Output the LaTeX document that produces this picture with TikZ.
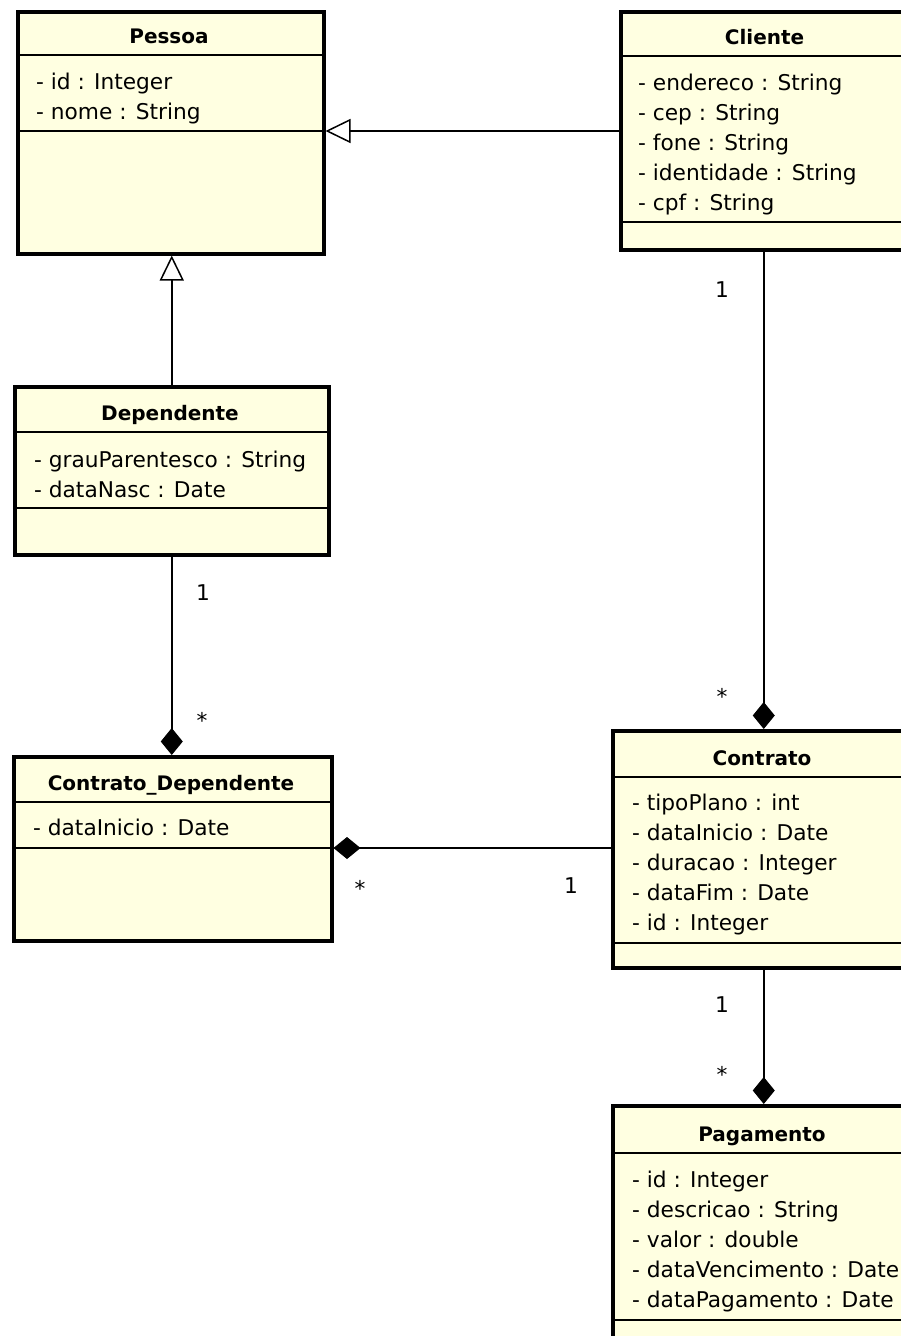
\documentclass[tikz,border=0pt]{standalone}
\usepackage{fontspec}
\setmainfont{DejaVu Sans}
\usetikzlibrary{arrows.meta}
\definecolor{classfill}{RGB}{255,255,225}
\tikzset{
  classbox/.style={draw=black, line width=3.5pt, fill=classfill, rectangle, inner sep=0pt, anchor=north west},
  sepline/.style={line width=1.4pt},
  titletext/.style={font=\fontsize{20}{24}\selectfont\bfseries, inner sep=0pt, anchor=base},
  attrtext/.style={font=\fontsize{21.7}{24}\selectfont, inner sep=0pt, anchor=base west},
  mult/.style={font=\fontsize{21.7}{24}\selectfont, inner sep=0pt},
  conn/.style={line width=1.5pt},
  gen/.style={conn, -{Triangle[open, length=25pt, width=24pt, fill=white, line width=1.5pt]}},
  comp/.style={conn, -{Diamond[length=27pt, width=22pt, line width=1pt]}},
}
% #1 name, #2 left, #3 top, #4 right, #5 bottom, #6 title, #7 sep1, #8 sep2
\newcommand\umlclass[8]{%
  \node[classbox, minimum width={#4-#2}, minimum height={#5-#3}] (#1) at (#2,-#3) {};
  \draw[sepline] (#2,-#7) -- (#4,-#7);
  \draw[sepline] (#2,-#8) -- (#4,-#8);
  \coordinate (#1-s2) at (#4,-#8);
  \node[titletext] (#1-title) at ({(#2+#4)/2},-#7+12) {#6};
}
% #1 name, #2 x, #3 first baseline, #4 list
\newcommand\umlattrs[4]{%
  \foreach \t [count=\i] in {#4} {
    \node[attrtext] (#1-a\i) at (#2,{-#3-30*(\i-1)}) {\t};
  }
}
\begin{document}
\begin{tikzpicture}[x=1pt,y=1pt]
\useasboundingbox (0,0) rectangle (901,-1336);
\fill[white] (0,0) rectangle (901,-1336);

\umlclass{pessoa}{16}{10}{322}{252}{Pessoa}{55}{131}
\umlattrs{pessoa}{36}{89}{- id : Integer, - nome : String}

\umlclass{cliente}{619}{10}{910}{248}{Cliente}{56}{222}
\umlattrs{cliente}{638}{90}{- endereco : String, - cep : String, - fone : String, - identidade : String, - cpf : String}

\umlclass{dep}{13}{385}{327}{553}{Dependente}{432}{508}
\umlattrs{dep}{34}{467}{- grauParentesco : String, - dataNasc : Date}

\umlclass{cd}{12}{755}{330}{939}{Contrato\_Dependente}{802}{848}
\umlattrs{cd}{33}{835}{- dataInicio : Date}

\umlclass{contrato}{611}{729}{913}{966}{Contrato}{777}{943}
\umlattrs{contrato}{632}{810}{- tipoPlano : int, - dataInicio : Date, - duracao : Integer, - dataFim : Date, - id : Integer}

\umlclass{pag}{611}{1104}{913}{1350}{Pagamento}{1153}{1320}
\umlattrs{pag}{632}{1187}{- id : Integer, - descricao : String, - valor : double, - dataVencimento : Date, - dataPagamento : Date}

% connectors
\draw[gen] (cliente.west |- pessoa-s2) -- (pessoa.east |- pessoa-s2);
\draw[gen] (dep.north) -- (dep.north |- pessoa.south);
\draw[comp] (dep.south) -- (dep.south |- cd.north);
\draw[comp] (cliente.south -| contrato.north) -- (contrato.north);
\draw[comp] (contrato.west |- cd-s2) -- (cd.east |- cd-s2);
\draw[comp] (contrato.south) -- (pag.north);

% multiplicities
\node[mult] (m1) at (722,-290) {1};
\node[mult] (m2) at (722,-696) {*};
\node[mult] (m3) at (203,-593) {1};
\node[mult] (m4) at (202,-720) {*};
\node[mult] (m5) at (360,-888) {*};
\node[mult] (m6) at (571,-886) {1};
\node[mult] (m7) at (722,-1005) {1};
\node[mult] (m8) at (722,-1074) {*};
\end{tikzpicture}
\end{document}
